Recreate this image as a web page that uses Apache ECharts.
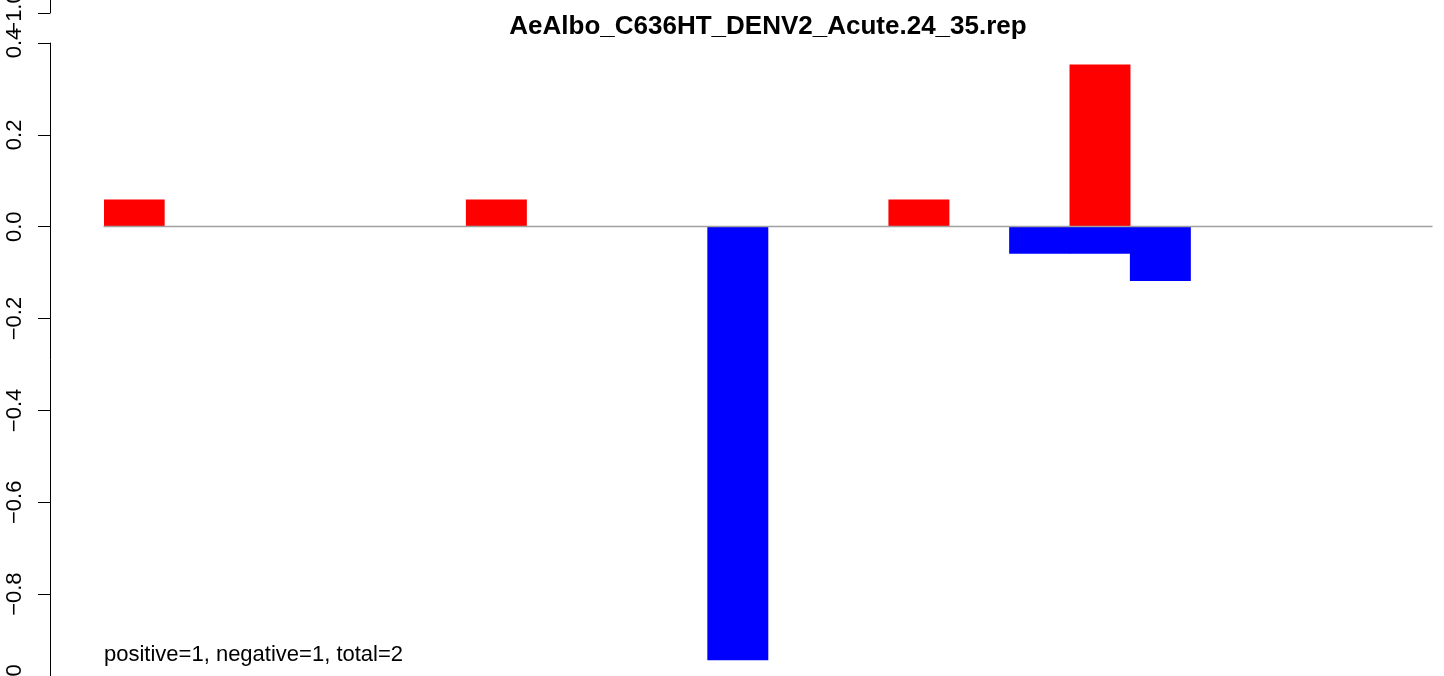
<!DOCTYPE html>
<html>
<head>
<meta charset="utf-8">
<script src="https://cdn.jsdelivr.net/npm/echarts@6/dist/echarts.min.js"></script>
<style>
html,body{margin:0;padding:0;background:#fff;}
#chart{width:1444px;height:676px;}
</style>
</head>
<body>
<div id="chart"></div>
<script>
// ---- data ----
var titleText = "AeAlbo_C636HT_DENV2_Acute.24_35.rep";
var noteText = "positive=1, negative=1, total=2";
var categories = ["1","2","3","4","5","6","7","8","9","10","11","12","13","14","15","16","17","18","19","20","21","22"];
var positiveValues = [0.059,0,0,0,0,0,0.059,0,0,0,0,0,0,0.059,0,0,0.353,0,0,0,0,0];
var negativeValues = [0,0,0,0,0,0,0,0,0,0,-0.944,0,0,0,0,-0.059,-0.059,-0.118,0,0,0,0];
var yMin = -1.0, yMax = 0.4, yStep = 0.2;
var topAxisMin = -1.0, topAxisMax = -0.5, topAxisStep = 0.5;

function fmt(v){
  var s = v.toFixed(1);
  return s.replace('-', '\u2212');
}

var FONT = "Liberation Sans, Arial, Helvetica, sans-serif";
var chart = echarts.init(document.getElementById('chart'), null, {renderer:'canvas'});
chart.setOption({
  animation: false,
  backgroundColor: '#ffffff',
  grid: [
    {left: 104, right: 12, top: 43, height: 643, containLabel: false, outerBoundsMode: 'none'},
    {left: 104, right: 12, top: -100, height: 113, containLabel: false, outerBoundsMode: 'none'}
  ],
  xAxis: [
    {
      type: 'category', gridIndex: 0, data: categories,
      boundaryGap: true,
      axisLine: {show: true, onZero: true, lineStyle: {color: '#a0a0a0', width: 1.3}},
      axisTick: {show: false}, axisLabel: {show: false}, splitLine: {show: false},
      z: 5
    },
    {
      type: 'category', gridIndex: 1, data: categories, show: false
    }
  ],
  yAxis: [
    {
      type: 'value', gridIndex: 0, min: yMin, max: yMax, interval: yStep,
      offset: 54,
      axisLine: {show: true, lineStyle: {color: '#000', width: 1}},
      axisTick: {show: true, length: 12, lineStyle: {color: '#000', width: 1}},
      axisLabel: {show: true, rotate: 90, margin: 24, fontSize: 22, color: '#000', fontFamily: FONT, formatter: fmt, hideOverlap: false},
      splitLine: {show: false}
    },
    {
      type: 'value', gridIndex: 1, min: topAxisMin, max: topAxisMax, interval: topAxisStep,
      offset: 54,
      axisLine: {show: true, lineStyle: {color: '#000', width: 1}},
      axisTick: {show: true, length: 12, lineStyle: {color: '#000', width: 1}},
      axisLabel: {show: true, rotate: 90, margin: 24, fontSize: 22, color: '#000', fontFamily: FONT, formatter: fmt, hideOverlap: false},
      splitLine: {show: false}
    }
  ],
  series: [
    {
      name: 'positive', type: 'bar', xAxisIndex: 0, yAxisIndex: 0,
      data: positiveValues, barWidth: '101%', barGap: '-100%', barCategoryGap: '0%',
      itemStyle: {color: '#ff0000'}, z: 2
    },
    {
      name: 'negative', type: 'bar', xAxisIndex: 0, yAxisIndex: 0,
      data: negativeValues, barWidth: '101%', barGap: '-100%', barCategoryGap: '0%',
      itemStyle: {color: '#0000ff'}, z: 2
    }
  ],
  graphic: [
    {
      type: 'text', x: 768, y: 27,
      style: {text: titleText, font: 'bold 26px ' + FONT, fill: '#000', textAlign: 'center', textVerticalAlign: 'middle'}
    },
    {
      type: 'text', x: 104, y: 655,
      style: {text: noteText, font: '22px ' + FONT, fill: '#000', textAlign: 'left', textVerticalAlign: 'middle'}
    }
  ]
});
</script>
</body>
</html>
